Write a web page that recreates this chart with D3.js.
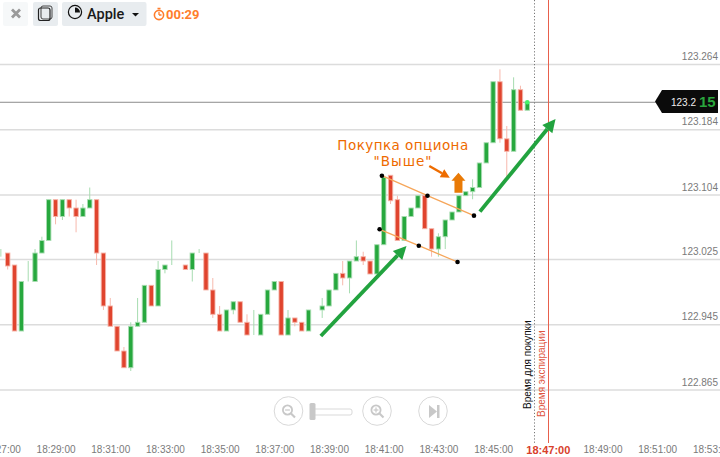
<!DOCTYPE html>
<html><head><meta charset="utf-8">
<script src="https://cdn.jsdelivr.net/npm/d3@7"></script>
<style>html,body{margin:0;padding:0;background:#fff;overflow:hidden}svg{display:block}</style>
</head><body><svg id="c" width="720" height="457"></svg>
<script>
const times=["18:27:00","18:27:15","18:27:30","18:27:45","18:28:00","18:28:15","18:28:30","18:28:45","18:29:00","18:29:15","18:29:30","18:29:45","18:30:00","18:30:15","18:30:30","18:30:45","18:31:00","18:31:15","18:31:30","18:31:45","18:32:00","18:32:15","18:32:30","18:32:45","18:33:00","18:33:15","18:33:30","18:33:45","18:34:00","18:34:15","18:34:30","18:34:45","18:35:00","18:35:15","18:35:30","18:35:45","18:36:00","18:36:15","18:36:30","18:36:45","18:37:00","18:37:15","18:37:30","18:37:45","18:38:00","18:38:15","18:38:30","18:38:45","18:39:00","18:39:15","18:39:30","18:39:45","18:40:00","18:40:15","18:40:30","18:40:45","18:41:00","18:41:15","18:41:30","18:41:45","18:42:00","18:42:15","18:42:30","18:42:45","18:43:00","18:43:15","18:43:30","18:43:45","18:44:00","18:44:15","18:44:30","18:44:45","18:45:00","18:45:15","18:45:30","18:45:45","18:46:00","18:46:15"];
const open=[123.0329,123.0329,123.0182,122.9373,122.9980,122.9980,123.0329,123.0483,123.0983,123.0777,123.0983,123.0881,123.0777,123.0881,123.0983,123.0329,122.9680,122.9431,122.9128,122.8923,122.9431,122.9480,122.9933,122.9680,123.0127,123.0182,123.0182,123.0182,123.0127,123.0329,123.0329,122.9876,122.9578,122.9373,122.9631,122.9732,122.9480,122.9324,122.9324,122.9578,122.9876,122.9980,122.9324,122.9533,122.9480,122.9373,122.9631,122.9631,122.9680,122.9876,123.0080,123.0023,123.0231,123.0284,123.0231,123.0072,123.0431,123.1282,123.0983,123.0483,123.0777,123.0881,123.1032,123.0627,123.0378,123.0529,123.0734,123.0832,123.1032,123.1081,123.1132,123.1433,123.1681,123.2429,123.1729,123.1576,123.2331,123.2079];
const close=[123.0329,123.0170,122.9373,122.9980,122.9980,123.0329,123.0483,123.0983,123.0777,123.0983,123.0881,123.0777,123.0881,123.0983,123.0329,122.9680,122.9431,122.9128,122.8923,122.9431,122.9480,122.9933,122.9680,123.0127,123.0182,123.0182,123.0182,123.0127,123.0329,123.0329,122.9876,122.9578,122.9373,122.9631,122.9732,122.9480,122.9324,122.9324,122.9578,122.9876,122.9980,122.9324,122.9533,122.9480,122.9373,122.9631,122.9631,122.9680,122.9876,123.0080,123.0023,123.0231,123.0284,123.0231,123.0072,123.0431,123.1257,123.0970,123.0483,123.0777,123.0881,123.1032,123.0627,123.0378,123.0529,123.0734,123.0832,123.1032,123.1081,123.1132,123.1433,123.1681,123.2429,123.1729,123.1576,123.2331,123.2079,123.2177];
const high=[123.0378,123.0329,123.0182,122.9980,123.0231,123.0378,123.0529,123.0983,123.0983,123.0983,123.0983,123.0983,123.0930,123.1132,123.0983,123.0329,122.9778,122.9431,122.9177,122.9480,122.9778,122.9933,122.9933,123.0231,123.0182,123.0483,123.0182,123.0182,123.0329,123.0378,123.0329,123.0023,122.9680,122.9631,122.9732,122.9732,122.9578,122.9631,122.9578,122.9876,122.9980,122.9980,122.9631,122.9533,122.9480,122.9631,122.9631,122.9778,122.9876,123.0080,123.0231,123.0231,123.0483,123.0345,123.0231,123.0431,123.1257,123.1282,123.1032,123.0777,123.0881,123.1032,123.1032,123.0627,123.0571,123.0734,123.0832,123.1032,123.1081,123.1233,123.1433,123.1681,123.2429,123.2581,123.1886,123.2483,123.2380,123.2177];
const low=[123.0284,123.0127,122.9373,122.9373,122.9980,122.9980,123.0329,123.0483,123.0681,123.0734,123.0777,123.0583,123.0777,123.0881,123.0182,122.9631,122.9431,122.9128,122.8923,122.8883,122.9431,122.9480,122.9680,122.9680,123.0080,123.0182,123.0182,123.0127,122.9980,123.0329,122.9876,122.9533,122.9373,122.9373,122.9578,122.9480,122.9324,122.9324,122.9324,122.9578,122.9876,122.9324,122.9324,122.9431,122.9373,122.9373,122.9631,122.9533,122.9680,122.9876,122.9933,122.9835,123.0231,123.0182,123.0072,123.0072,123.0431,123.0930,123.0483,123.0483,123.0777,123.0881,123.0627,123.0284,123.0284,123.0378,123.0734,123.0832,123.1032,123.0988,123.1132,123.1433,123.1681,123.1681,123.1265,123.1576,123.2079,123.2079];
const priceTicks=[123.264,123.184,123.104,123.025,122.945,122.865];
const timeTicks=["18:27:00","18:29:00","18:31:00","18:33:00","18:35:00","18:37:00","18:39:00","18:41:00","18:43:00","18:45:00","18:47:00","18:49:00","18:51:00","18:53:00"];
const currentPrice=123.2177, priceText="123.2", priceDigits="15";
const purchaseTime="18:46:30", expiryTime="18:47:00";
const upperChannel=[["18:40:56",123.1277],["18:42:36",123.1032],["18:44:18",123.0787]];
const lowerChannel=[["18:40:51",123.0620],["18:42:17",123.0419],["18:43:42",123.0219]];
const trendArrows=[[["18:38:42",122.9312],["18:41:50",123.0415]],[["18:44:31",123.0836],["18:47:17",123.1972]]];
const calloutArrow=[["18:42:40",123.1396],["18:43:25",123.1252]];
const upArrow=[["18:43:44",123.1069],["18:43:44",123.1314]];

const parse=d3.timeParse("%H:%M:%S"), fmt=d3.timeFormat("%H:%M:%S");
const x=d3.scaleTime().domain([parse("18:27:15"),parse("18:47:00")]).range([7.7,547.8]);
const y=d3.scaleLinear().domain([122.865,123.264]).range([390,64.5]);
const svg=d3.select("#c");
const GREEN="#27a83e",RED="#e0442e";
const sans="'Liberation Sans',Arial,sans-serif";
const P=p=>[x(parse(p[0])),y(p[1])];

// y axis + grid
const ya=svg.append("g").attr("transform","translate(720,-0.5)")
 .call(d3.axisRight(y).tickValues(priceTicks).tickFormat(d3.format(".3f")).tickSize(-720).tickPadding(0));
ya.select(".domain").remove();
ya.selectAll("line").attr("stroke","#dcdcdc").attr("stroke-width",1.5);
ya.selectAll("text").attr("x",-2).attr("dy",-4.5).attr("text-anchor","end").attr("fill","#7a7a7a").style("font",`10px ${sans}`);

// current price line
svg.append("line").attr("x1",0).attr("x2",660).attr("y1",y(currentPrice)).attr("y2",y(currentPrice)).attr("stroke","#8c8c8c").attr("stroke-width",1);

// x axis
const xa=svg.append("g").attr("transform","translate(0,442)")
 .call(d3.axisBottom(x).tickValues(timeTicks.map(parse)).tickFormat(fmt).tickSize(0).tickPadding(4));
xa.select(".domain").remove();
xa.selectAll("text").attr("fill","#7a7a7a").style("font",`10px ${sans}`);
xa.selectAll("text").filter(d=>fmt(d)===expiryTime).attr("fill","#d8402b").style("font",`bold 11px ${sans}`);

// vertical lines
const purchaseX=Math.round(x(parse(purchaseTime)))+0.5, expiryX=Math.round(x(parse(expiryTime)))+0.5;
svg.append("line").attr("x1",purchaseX).attr("x2",purchaseX).attr("y1",0).attr("y2",443).attr("stroke","#777").attr("stroke-dasharray","1.2 2");
svg.append("line").attr("x1",expiryX).attr("x2",expiryX).attr("y1",0).attr("y2",443).attr("stroke","#e8604c").attr("stroke-width",1);

// candles
const cd=svg.append("g").selectAll("g").data(times).join("g");
const col=(i)=>close[i]>=open[i];
const doji=(i)=>Math.abs(y(open[i])-y(close[i]))<1;
cd.append("line").attr("x1",d=>x(parse(d))).attr("x2",d=>x(parse(d)))
 .attr("y1",(d,i)=>y(high[i])).attr("y2",(d,i)=>y(low[i]))
 .attr("stroke",(d,i)=>col(i)?"#a6dcb0":"#f7b9ad").attr("stroke-width",1);
cd.append("rect").attr("x",d=>x(parse(d))-2.2).attr("width",4.4)
 .attr("y",(d,i)=>y(Math.max(open[i],close[i])))
 .attr("height",(d,i)=>Math.max(0,y(Math.min(open[i],close[i]))-y(Math.max(open[i],close[i]))))
 .attr("fill",(d,i)=>col(i)?GREEN:RED)
 .attr("stroke",(d,i)=>doji(i)?"#5fbd72":(col(i)?"#a9ddb2":"#f5b4a8")).attr("stroke-width",(d,i)=>doji(i)?1:0.9);

// current dot
svg.append("circle").attr("cx",x(parse(times[times.length-1]))).attr("cy",y(currentPrice)).attr("r",2.3).attr("fill","#45f26a");

// channels
const line=d3.line().x(d=>P(d)[0]).y(d=>P(d)[1]);
[upperChannel,lowerChannel].forEach(ch=>{
 svg.append("path").attr("d",line(ch)).attr("fill","none").attr("stroke","#f6a65a").attr("stroke-width",1.3);
 svg.selectAll(null).data(ch).join("circle").attr("cx",d=>P(d)[0]).attr("cy",d=>P(d)[1]).attr("r",2.3).attr("fill","#000");
});

// arrows
function arrow(a,b,w,hl,hw,color){
 const [x0,y0]=P(a),[x1,y1]=P(b);const an=Math.atan2(y1-y0,x1-x0),c=Math.cos(an),s=Math.sin(an);
 const bx=x1-hl*c,by=y1-hl*s;
 svg.append("line").attr("x1",x0).attr("y1",y0).attr("x2",bx).attr("y2",by).attr("stroke",color).attr("stroke-width",w);
 svg.append("path").attr("d",`M${x1},${y1}L${bx-hw*s},${by+hw*c}L${bx+hw*s},${by-hw*c}Z`).attr("fill",color);
}
trendArrows.forEach(t=>arrow(t[0],t[1],3.8,13,6.5,"#22a33f"));
arrow(calloutArrow[0],calloutArrow[1],2.4,9,4.5,"#ee6c00");
{const [bx,by]=P(upArrow[0]),[tx,ty]=P(upArrow[1]);
 svg.append("path").attr("d",`M${tx},${ty}L${tx+7},${ty+8}L${tx+4},${ty+8}L${bx+4},${by}L${bx-4},${by}L${tx-4},${ty+8}L${tx-7},${ty+8}Z`).attr("fill","#e97a06");}

// annotation text
const ann=svg.append("text").attr("fill","#ee6a00").attr("text-anchor","middle").style("font","13.5px 'DejaVu Sans',sans-serif");
ann.append("tspan").attr("x",403).attr("y",150).attr("letter-spacing",0.45).text("Покупка опциона");
ann.append("tspan").attr("x",403).attr("y",166).attr("letter-spacing",1).text("\"Выше\"");

// vertical labels
svg.append("text").attr("transform",`translate(${purchaseX-3.5},409) rotate(-90)`).attr("fill","#111").style("font",`10px ${sans}`).text("Время для покупки");
svg.append("text").attr("transform",`translate(${expiryX-3.5},417) rotate(-90)`).attr("fill","#e0553f").style("font",`10px ${sans}`).text("Время экспирации");

// price tag
svg.append("path").attr("d","M655,101.5L662,90H718V113H662Z").attr("fill","#0b0b0b");
svg.append("text").attr("x",671).attr("y",105.5).attr("fill","#eee").style("font",`10px ${sans}`).text(priceText);
svg.append("text").attr("x",699).attr("y",107).attr("fill","#2aa63d").style("font",`bold 15px ${sans}`).text(priceDigits);

// zoom controls
const G="#d9d9d9",G2="#c8c8c8";
[288.5,377,433].forEach(cx=>svg.append("circle").attr("cx",cx).attr("cy",411).attr("r",14.3).attr("fill","none").attr("stroke",G).attr("stroke-width",1));
function mag(cx,plus){
 const g=svg.append("g").attr("transform",`translate(${cx},410)`);
 g.append("circle").attr("r",4.6).attr("fill","none").attr("stroke",G2).attr("stroke-width",1.8);
 g.append("line").attr("x1",3.5).attr("y1",3.5).attr("x2",7.5).attr("y2",7.5).attr("stroke",G2).attr("stroke-width",2.2);
 g.append("line").attr("x1",-2.4).attr("x2",2.4).attr("stroke",G2).attr("stroke-width",1.2);
 if(plus)g.append("line").attr("y1",-2.4).attr("y2",2.4).attr("stroke",G2).attr("stroke-width",1.2);
}
mag(287.5,false);mag(376,true);
svg.append("path").attr("d","M429,405L437,411.5L429,418Z").attr("fill",G2);
svg.append("rect").attr("x",437).attr("y",405).attr("width",2.5).attr("height",13).attr("fill",G2);
svg.append("rect").attr("x",313).attr("y",409).attr("width",39).attr("height",6).attr("rx",2).attr("fill","#fff").attr("stroke",G);
svg.append("rect").attr("x",309.5).attr("y",403).attr("width",6).attr("height",17).attr("rx",1.5).attr("fill",G2);

// toolbar
svg.append("rect").attr("x",3).attr("y",2).attr("width",25).attr("height",24).attr("rx",2).attr("fill","#f6f8f9");
svg.append("path").attr("d","M12,9.5L20,17.5M20,9.5L12,17.5").attr("stroke","#9a9a9a").attr("stroke-width",2.8);
svg.append("rect").attr("x",33).attr("y",2).attr("width",25).attr("height",24).attr("rx",2).attr("fill","#e8ecef");
svg.append("rect").attr("x",41).attr("y",6).attr("width",11).attr("height",13).attr("rx",2).attr("fill","none").attr("stroke","#444").attr("stroke-width",1);
svg.append("rect").attr("x",38.5).attr("y",8).attr("width",11.5).attr("height",12.5).attr("rx",2).attr("fill","none").attr("stroke","#222").attr("stroke-width",1.2);
svg.append("rect").attr("x",62).attr("y",2).attr("width",84.5).attr("height",24).attr("rx",2).attr("fill","#e8ecef");
svg.append("circle").attr("cx",75).attr("cy",12).attr("r",6.6).attr("fill","none").attr("stroke","#111").attr("stroke-width",1.2);
svg.append("path").attr("d",d3.arc()({innerRadius:0,outerRadius:5,startAngle:0,endAngle:Math.PI/2})).attr("transform","translate(75,12.5)").attr("fill","#111");
svg.append("text").attr("x",87).attr("y",19).attr("fill","#1a1a1a").style("font","500 14.5px Roboto,sans-serif").text("Apple");
svg.append("path").attr("d","M132,13L139,13L135.5,16.5Z").attr("fill","#111");
svg.append("circle").attr("cx",159).attr("cy",15).attr("r",4.6).attr("fill","none").attr("stroke","#ff7d2c").attr("stroke-width",1.6);
svg.append("path").attr("d","M159,15V12M159,15H161.5M157.5,8.5H160.5").attr("fill","none").attr("stroke","#ff7d2c").attr("stroke-width",1.3);
svg.append("text").attr("x",166).attr("y",19).attr("fill","#ff7d2c").style("font","700 13px Roboto,sans-serif").text("00:29");
</script></body></html>
